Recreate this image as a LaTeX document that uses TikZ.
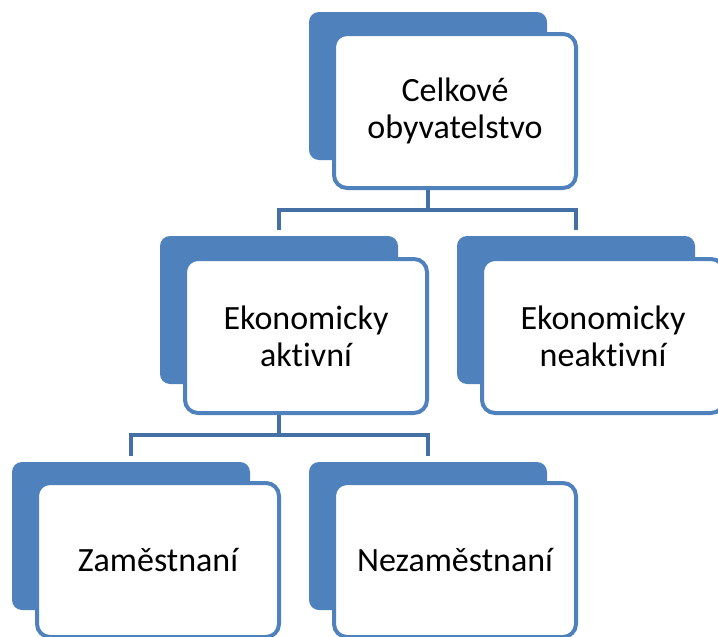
\documentclass[tikz,border=0pt]{standalone}
\usepackage{fontspec}
\setmainfont{Carlito}[Ligatures={NoCommon}]
\definecolor{accent}{HTML}{4F81BD}
\definecolor{connc}{HTML}{4470A5}
\tikzset{
  backbox/.style={rectangle, fill=accent, draw=none, rounded corners=10pt,
    minimum width=238pt, minimum height=148pt, inner sep=0pt},
  frontbox/.style={rectangle, fill=white, draw=accent, line width=4pt, rounded corners=13pt,
    minimum width=242pt, minimum height=154pt, inner sep=0pt, align=center,
    font=\fontsize{34pt}{37pt}\selectfont, text=black},
  conn/.style={draw=connc, line width=4.5pt, shorten >=6pt}
}
\begin{document}
\begin{tikzpicture}[x=1pt, y=-1pt]
\useasboundingbox (0,0) rectangle (718,637);
\clip (0,0) rectangle (718,637);
% back shapes
\node[backbox] (tb) at (428,86) {};
\node[backbox] (lb) at (279,310) {};
\node[backbox] (rb) at (576,310) {};
\node[backbox] (zb) at (131,536) {};
\node[backbox] (nb) at (428,536) {};
% front boxes
\node[frontbox] (t) at ([shift={(27,25)}]tb.center) {Celkové\\obyvatelstvo};
\node[frontbox] (l) at ([shift={(27,26)}]lb.center) {Ekonomicky\\aktivní};
\node[frontbox] (r) at ([shift={(27,26)}]rb.center) {Ekonomicky\\neaktivní};
\node[frontbox] (z) at ([shift={(27,24)}]zb.center) {Zaměstnaní};
\node[frontbox] (n) at ([shift={(27,24)}]nb.center) {Nezaměstnaní};
% connectors
\draw[conn] (tb.south |- t.south) -- ++(0,20) -| (lb.north);
\draw[conn] (tb.south |- t.south) -- ++(0,20) -| (rb.north);
\draw[conn] (lb.south |- l.south) -- ++(0,20) -| (zb.north);
\draw[conn] (lb.south |- l.south) -- ++(0,20) -| (nb.north);
\end{tikzpicture}
\end{document}
